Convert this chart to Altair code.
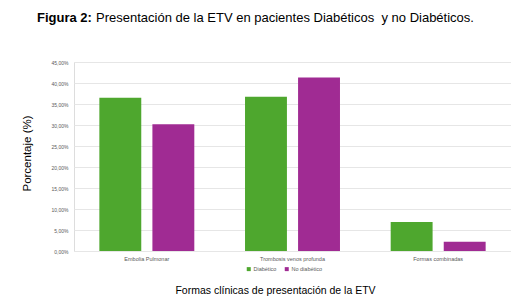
import altair as alt
import pandas as pd

categories = ["Embolia Pulmonar", "Trombosis venos profunda", "Formas combinadas"]
groups = ["Diabético", "No diabético"]
diabetico = [36.5, 36.7, 6.9]
no_diabetico = [30.2, 41.3, 2.2]
colors = ["#4EA72E", "#A02B93"]

rows = []
for c, d, n in zip(categories, diabetico, no_diabetico):
    rows.append({"cat": c, "grupo": groups[0], "valor": d})
    rows.append({"cat": c, "grupo": groups[1], "valor": n})
df = pd.DataFrame(rows)

FONT = "Liberation Sans"

bars = alt.Chart(df).mark_bar().encode(
    x=alt.X("cat:N", sort=categories,
            scale=alt.Scale(paddingInner=0, paddingOuter=0),
            axis=alt.Axis(title="Formas clínicas de presentación de la ETV",
                          labelAngle=0, labelFontSize=5.5, labelColor="#595959",
                          labelFont=FONT, labelPadding=5, domain=False, ticks=False,
                          titleFont=FONT, titleFontSize=10.5, titleFontWeight="normal",
                          titleColor="#000000", titleX=201, titleY=39,
                          titleBaseline="middle", titleAnchor="start", titleAlign="center")),
    xOffset=alt.XOffset("grupo:N", sort=groups,
                        scale=alt.Scale(paddingInner=0.21, paddingOuter=0.478)),
    y=alt.Y("valor:Q", scale=alt.Scale(domain=[0, 45], nice=False),
            axis=alt.Axis(title="Porcentaje (%)", values=list(range(0, 50, 5)),
                          labelExpr="replace(format(datum.value, '.2f'), '.', ',') + '%'",
                          labelFontSize=5, labelColor="#595959", labelFont=FONT,
                          labelPadding=6, domain=False, ticks=False,
                          gridColor="#e6e6e6", gridWidth=1,
                          titleFont=FONT, titleFontSize=11.5, titleFontWeight="normal",
                          titleColor="#000000", titleX=-47, titleY=91,
                          titleAngle=270, titleBaseline="middle", titleAlign="center")),
    color=alt.Color("grupo:N", sort=groups,
                    scale=alt.Scale(domain=groups, range=colors),
                    legend=alt.Legend(title=None, orient="none", legendX=172, legendY=204,
                                      direction="horizontal", symbolType="square",
                                      symbolSize=16, symbolStrokeWidth=0,
                                      labelFontSize=5.5, labelColor="#595959",
                                      labelFont=FONT, columnPadding=7, labelOffset=2)),
)

title_df = pd.DataFrame({"a": ["Figura 2:"], "b": ["Presentación de la ETV en pacientes Diabéticos\u00a0 y no Diabéticos."]})

t1 = alt.Chart(title_df).mark_text(align="left", baseline="middle", font=FONT,
                                   fontSize=13, fontWeight="bold", color="#000000").encode(
    text="a:N", x=alt.value(-37), y=alt.value(-44))
t2 = alt.Chart(title_df).mark_text(align="left", baseline="middle", font=FONT,
                                   fontSize=13, color="#000000").encode(
    text="b:N", x=alt.value(22), y=alt.value(-44))

chart = alt.layer(bars, t1, t2).properties(
    width=437, height=189,
    padding={"left": 74, "top": 62, "right": 0, "bottom": 51},
    autosize=alt.AutoSizeParams(type="none"),
).configure_view(stroke=None).configure(background="white")

chart.save("out.html", embed_options={"renderer": "svg", "actions": False})
